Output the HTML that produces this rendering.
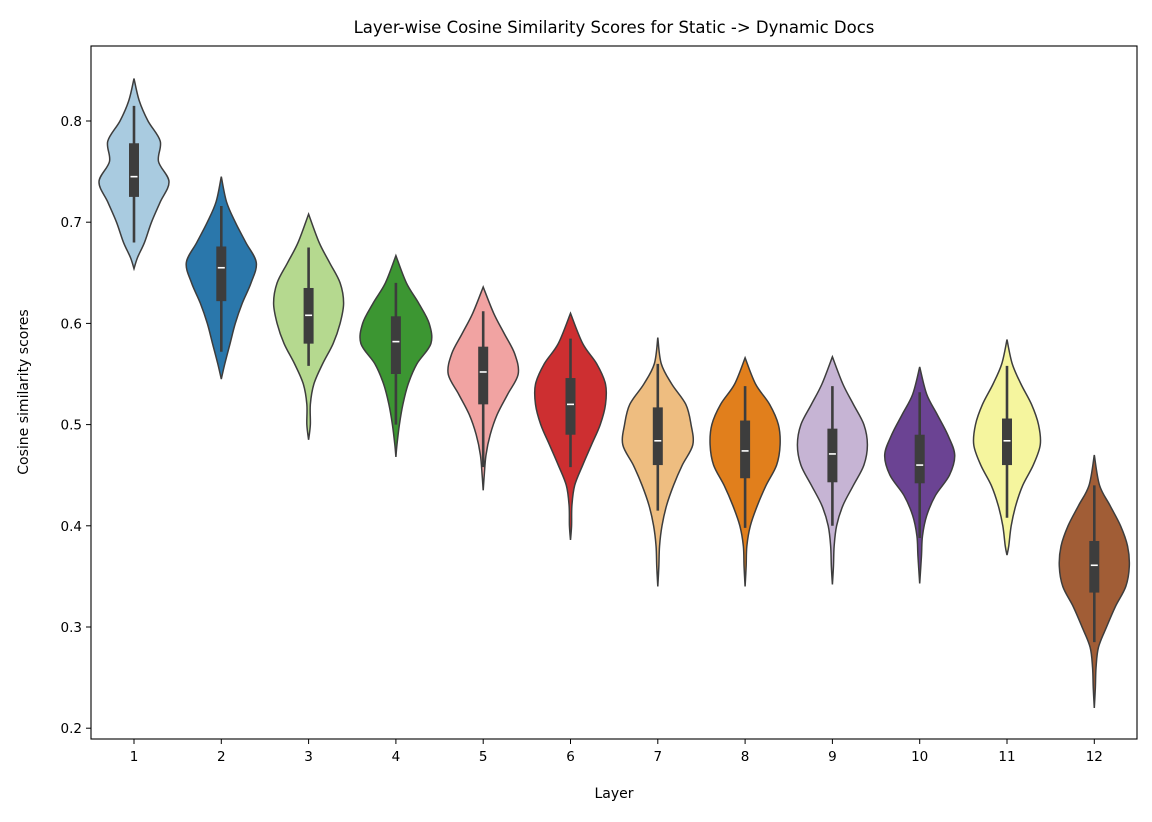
<!DOCTYPE html>
<html><head><meta charset="utf-8"><style>
body{margin:0;background:#fff}
svg text{font-family:"DejaVu Sans","Liberation Sans",sans-serif;fill:#000}
</style></head><body>
<svg width="1152" height="817" viewBox="0 0 1152 817">
<g id="plot"></g>
<rect x="91" y="46" width="1046" height="693" fill="none" stroke="#000" stroke-width="1.1"/>
<text x="614" y="33" font-size="16.5" text-anchor="middle">Layer-wise Cosine Similarity Scores for Static -&gt; Dynamic Docs</text>
<text x="614" y="798" font-size="14" text-anchor="middle">Layer</text>
<text x="28" y="392" font-size="14" text-anchor="middle" transform="rotate(-90 28 392)">Cosine similarity scores</text>
<g id="axes"></g>
</svg>
<script>
const categories=['1','2','3','4','5','6','7','8','9','10','11','12'];
const yTicks=[0.2,0.3,0.4,0.5,0.6,0.7,0.8];
const colors=['#a9cbe0','#2a77ab','#b5d98f','#3c9632','#f1a3a2','#cd2f31','#eebd80','#e17f1c','#c6b4d4','#6b4393','#f5f59e','#a15d36'];
const medians=[0.745,0.655,0.608,0.582,0.552,0.52,0.484,0.474,0.471,0.46,0.484,0.361];
const q1s=[0.725,0.622,0.58,0.55,0.52,0.49,0.46,0.447,0.443,0.442,0.46,0.334];
const q3s=[0.778,0.676,0.635,0.607,0.577,0.546,0.517,0.504,0.496,0.49,0.506,0.385];
const whiskLo=[0.68,0.572,0.558,0.50,0.458,0.458,0.415,0.398,0.40,0.388,0.408,0.285];
const whiskHi=[0.815,0.716,0.675,0.64,0.612,0.585,0.56,0.538,0.538,0.532,0.558,0.44];
const densities=[
[[0.842,0],[0.82,.15],[0.80,.4],[0.78,.75],[0.76,.7],[0.74,1],[0.72,.75],[0.70,.5],[0.68,.3],[0.665,.1],[0.654,0]],
[[0.745,0],[0.72,.15],[0.70,.4],[0.68,.7],[0.66,1],[0.64,.85],[0.62,.6],[0.60,.4],[0.58,.25],[0.56,.1],[0.545,0]],
[[0.708,0],[0.68,.3],[0.66,.6],[0.64,.9],[0.62,1],[0.60,.9],[0.58,.7],[0.56,.4],[0.54,.15],[0.52,.05],[0.50,.05],[0.485,0]],
[[0.667,0],[0.64,.3],[0.62,.65],[0.60,.95],[0.58,1],[0.56,.6],[0.54,.35],[0.52,.2],[0.50,.1],[0.48,.03],[0.468,0]],
[[0.636,0],[0.61,.3],[0.59,.6],[0.57,.9],[0.55,1],[0.53,.7],[0.51,.4],[0.49,.2],[0.47,.08],[0.45,.03],[0.435,0]],
[[0.61,0],[0.58,.35],[0.56,.75],[0.54,1],[0.52,1],[0.50,.85],[0.48,.6],[0.46,.35],[0.44,.12],[0.42,.04],[0.40,.03],[0.386,0]],
[[0.586,0],[0.56,.1],[0.54,.4],[0.52,.8],[0.50,.95],[0.48,1],[0.46,.7],[0.44,.45],[0.42,.25],[0.40,.12],[0.38,.05],[0.36,.03],[0.34,0]],
[[0.566,0],[0.54,.3],[0.52,.7],[0.50,.95],[0.48,1],[0.46,.9],[0.44,.6],[0.42,.35],[0.40,.15],[0.38,.05],[0.36,.03],[0.34,0]],
[[0.567,0],[0.54,.3],[0.52,.6],[0.50,.9],[0.48,1],[0.46,.9],[0.44,.6],[0.42,.3],[0.40,.12],[0.38,.05],[0.36,.03],[0.342,0]],
[[0.557,0],[0.53,.2],[0.51,.5],[0.49,.8],[0.47,1],[0.45,.85],[0.43,.45],[0.41,.2],[0.39,.08],[0.37,.05],[0.343,0]],
[[0.584,0],[0.56,.15],[0.54,.4],[0.52,.7],[0.50,.9],[0.48,.95],[0.46,.75],[0.44,.45],[0.42,.25],[0.40,.12],[0.38,.05],[0.371,0]],
[[0.47,0],[0.44,.15],[0.42,.45],[0.40,.75],[0.38,.95],[0.36,1],[0.34,.9],[0.32,.6],[0.30,.35],[0.28,.12],[0.26,.05],[0.24,.03],[0.22,0]]
];
const NS='http://www.w3.org/2000/svg';
const y=v=>121+(0.8-v)*1012;
const x=i=>134+i*87.3;
const HW=35;
const plot=document.getElementById('plot'), axes=document.getElementById('axes');
function mk(t,a,p){const e=document.createElementNS(NS,t);for(const k in a)e.setAttribute(k,a[k]);p.appendChild(e);return e;}
function smooth(pts){let d='M'+pts[0][0]+','+pts[0][1];for(let i=0;i<pts.length-1;i++){const p0=pts[Math.max(0,i-1)],p1=pts[i],p2=pts[i+1],p3=pts[Math.min(pts.length-1,i+2)];const c1=[p1[0]+(p2[0]-p0[0])/6,p1[1]+(p2[1]-p0[1])/6],c2=[p2[0]-(p3[0]-p1[0])/6,p2[1]-(p3[1]-p1[1])/6];d+='C'+c1+' '+c2+' '+p2;}return d;}
categories.forEach((c,i)=>{
  const cx=x(i),dn=densities[i];
  const right=dn.map(p=>[cx+p[1]*HW,y(p[0])]);
  const left=dn.slice().reverse().map(p=>[cx-p[1]*HW,y(p[0])]);
  const d=smooth(right)+' L'+smooth(left).slice(1)+'Z';
  const g=mk('g',{},plot);
  
  
  mk('path',{d:d,fill:colors[i],stroke:'#3d3d3d','stroke-width':1.5},g);
  mk('line',{x1:cx,x2:cx,y1:y(whiskHi[i]),y2:y(whiskLo[i]),stroke:'#3d3d3d','stroke-width':2.6},g);
  mk('rect',{x:cx-5,y:y(q3s[i]),width:10,height:y(q1s[i])-y(q3s[i]),fill:'#3d3d3d'},g);
  mk('line',{x1:cx-3.5,x2:cx+3.5,y1:y(medians[i]),y2:y(medians[i]),stroke:'#fff','stroke-width':1.6},g);
  mk('line',{x1:cx,x2:cx,y1:739,y2:744,stroke:'#000','stroke-width':1},axes);
  const t=mk('text',{x:cx,y:761,'font-size':13.5,'text-anchor':'middle'},axes);
  
  
  t.textContent=c;
});
yTicks.forEach(v=>{
  mk('line',{x1:86,x2:91,y1:y(v),y2:y(v),stroke:'#000','stroke-width':1},axes);
  const t=mk('text',{x:82,y:y(v)+5,'font-size':13.5,'text-anchor':'end'},axes);
  
  
  t.textContent=v.toFixed(1);
});
</script>
</body></html>
